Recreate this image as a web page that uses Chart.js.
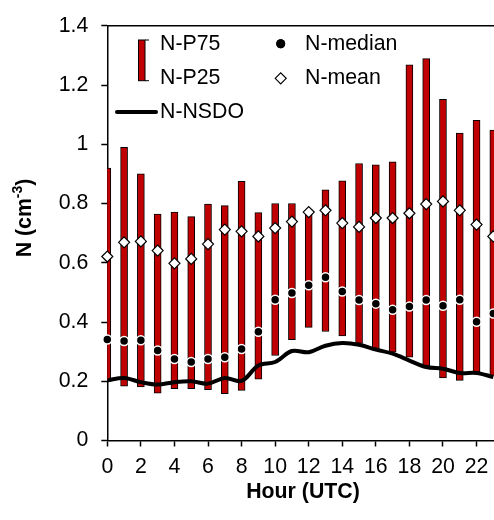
<!DOCTYPE html>
<html>
<head>
<meta charset="utf-8">
<script src="https://cdn.jsdelivr.net/npm/chart.js@4.4.1/dist/chart.umd.min.js"></script>
<style>
  html, body { margin: 0; padding: 0; background: #fff; }
  #wrap { width: 494px; height: 520px; }
</style>
</head>
<body>
<div id="wrap"><canvas id="chart" width="494" height="520"></canvas></div>
<script>
// --- データ (時間別 N 統計) ---
const hours = [0, 1, 2, 3, 4, 5, 6, 7, 8, 9, 10, 11, 12, 13, 14, 15, 16, 17, 18, 19, 20, 21, 22, 23];
const nP75 = [0.92, 0.99, 0.90, 0.764, 0.771, 0.756, 0.798, 0.793, 0.875, 0.769, 0.80, 0.80,
              0.77, 0.846, 0.877, 0.935, 0.931, 0.941, 1.268, 1.289, 1.152, 1.038, 1.081, 1.048];
const nP25 = [0.20, 0.183, 0.181, 0.160, 0.175, 0.175, 0.172, 0.158, 0.169, 0.207, 0.287, 0.340,
              0.382, 0.368, 0.353, 0.328, 0.309, 0.298, 0.281, 0.248, 0.211, 0.203, 0.231, 0.22];
const nMedian = [0.341, 0.336, 0.338, 0.304, 0.275, 0.265, 0.275, 0.281, 0.309, 0.367, 0.475, 0.498,
                 0.524, 0.551, 0.503, 0.474, 0.462, 0.441, 0.452, 0.474, 0.455, 0.475, 0.401, 0.429];
const nMean = [0.621, 0.669, 0.672, 0.641, 0.598, 0.613, 0.663, 0.712, 0.706, 0.689, 0.717, 0.739,
               0.771, 0.777, 0.734, 0.721, 0.751, 0.751, 0.767, 0.798, 0.807, 0.777, 0.729, 0.689];
const nNsdo = [0.203, 0.211, 0.197, 0.189, 0.197, 0.200, 0.192, 0.211, 0.201, 0.253, 0.265, 0.302,
               0.298, 0.320, 0.329, 0.323, 0.307, 0.293, 0.270, 0.248, 0.242, 0.228, 0.228, 0.214];

const FONT = '"Liberation Sans", Arial, sans-serif';
const RED = '#C00000';

// 凡例・軸タイトル・上枠線を描くプラグイン
const decorPlugin = {
  id: 'decor',
  afterDraw(chart) {
    const ctx = chart.ctx;
    const area = chart.chartArea;
    ctx.save();

    // 上枠線
    ctx.strokeStyle = '#000';
    ctx.lineWidth = 1.5;
    ctx.beginPath();
    ctx.moveTo(area.left, area.top);
    ctx.lineTo(area.right, area.top);
    ctx.stroke();

    // 凡例
    ctx.font = '21.3px ' + FONT;
    ctx.fillStyle = '#000';
    ctx.textBaseline = 'middle';
    ctx.textAlign = 'left';

    // P75/P25 バー記号
    ctx.fillStyle = RED;
    ctx.fillRect(138.5, 40, 6.5, 40.7);
    ctx.strokeStyle = '#000';
    ctx.lineWidth = 1;
    ctx.strokeRect(138.5, 40, 6.5, 40.7);
    ctx.beginPath();
    ctx.moveTo(145, 40); ctx.lineTo(149, 40);
    ctx.moveTo(145, 80.7); ctx.lineTo(149, 80.7);
    ctx.stroke();

    ctx.fillStyle = '#000';
    ctx.fillText('N-P75', 160, 44);
    ctx.fillText('N-P25', 160, 78);

    // NSDO 線
    ctx.lineWidth = 4;
    ctx.lineCap = 'round';
    ctx.beginPath();
    ctx.moveTo(117, 112); ctx.lineTo(156, 112);
    ctx.stroke();
    ctx.fillText('N-NSDO', 160, 112);

    // median / mean 記号
    Chart.helpers.drawPoint(ctx, { pointStyle: 'circle', radius: 4.5, borderWidth: 0 }, 280.7, 43.7);
    ctx.fillStyle = '#000';
    ctx.fill();
    ctx.fillStyle = '#fff';
    ctx.strokeStyle = '#000';
    ctx.lineWidth = 1.2;
    Chart.helpers.drawPoint(ctx, { pointStyle: 'rectRot', radius: 5.5, borderWidth: 1.2 }, 280.7, 78.3);
    ctx.fillStyle = '#000';
    ctx.fillText('N-median', 305, 44);
    ctx.fillText('N-mean', 305, 78);

    // x 軸タイトル
    ctx.font = 'bold 21.3px ' + FONT;
    ctx.textAlign = 'center';
    ctx.fillText('Hour (UTC)', 303, 492);

    // y 軸タイトル (上付き -3)
    ctx.translate(25, 218);
    ctx.rotate(-Math.PI / 2);
    const big = 'bold 21.3px ' + FONT;
    const small = 'bold 14px ' + FONT;
    ctx.font = big;
    const w1 = ctx.measureText('N (cm').width;
    const w3 = ctx.measureText(')').width;
    ctx.font = small;
    const w2 = ctx.measureText('-3').width;
    let x = -(w1 + w2 + w3) / 2;
    ctx.textAlign = 'left';
    ctx.font = big;
    ctx.fillText('N (cm', x, 0);
    x += w1;
    ctx.font = small;
    ctx.fillText('-3', x, -7);
    x += w2;
    ctx.font = big;
    ctx.fillText(')', x, 0);

    ctx.restore();
  }
};

new Chart(document.getElementById('chart'), {
  type: 'bar',
  data: {
    datasets: [
      {
        type: 'scatter',
        label: 'N-median',
        data: hours.map((h, i) => ({ x: h, y: nMedian[i] })),
        pointStyle: 'circle',
        pointRadius: 4.5,
        pointBackgroundColor: '#000',
        pointBorderColor: '#fff',
        pointBorderWidth: 1.5,
        clip: false,
        order: 1
      },
      {
        type: 'scatter',
        label: 'N-mean',
        data: hours.map((h, i) => ({ x: h, y: nMean[i] })),
        pointStyle: 'rectRot',
        pointRadius: 5.5,
        pointBackgroundColor: '#fff',
        pointBorderColor: '#000',
        pointBorderWidth: 1.2,
        clip: false,
        order: 2
      },
      {
        type: 'line',
        label: 'N-NSDO',
        data: hours.map((h, i) => ({ x: h, y: nNsdo[i] })),
        borderColor: '#000',
        borderWidth: 4,
        pointRadius: 0,
        tension: 0.35,
        fill: false,
        order: 3
      },
      {
        type: 'bar',
        label: 'N-P25/P75',
        data: hours.map((h, i) => ({ x: h, y: [nP25[i], nP75[i]] })),
        backgroundColor: RED,
        borderColor: '#000',
        borderWidth: 1,
        borderSkipped: false,
        barThickness: 7,
        order: 4
      }
    ]
  },
  options: {
    responsive: false,
    animation: false,
    devicePixelRatio: 1,
    layout: { autoPadding: false, padding: { top: 24, right: 0, left: 0, bottom: 0 } },
    plugins: {
      legend: { display: false },
      tooltip: { enabled: false }
    },
    scales: {
      x: {
        type: 'linear',
        min: 0,
        max: 23.04,
        offset: false,
        afterFit(scale) {
          scale.height = 79.5;
          scale.paddingRight = 0;
          scale.paddingLeft = 0;
        },
        ticks: {
          stepSize: 2,
          includeBounds: false,
          autoSkip: false,
          maxRotation: 0,
          padding: 8,
          color: '#000',
          font: { family: FONT, size: 21.3 },
          callback: v => String(v)
        },
        grid: { offset: false, drawOnChartArea: false, drawTicks: true, tickLength: 6, tickColor: '#000', tickWidth: 1.5 },
        border: { color: '#000', width: 1.5 }
      },
      y: {
        min: 0,
        max: 1.4,
        afterFit(scale) { scale.width = 107.3; },
        ticks: {
          stepSize: 0.2,
          padding: 13,
          color: '#000',
          font: { family: FONT, size: 21.3 },
          callback: v => String(+v.toFixed(1))
        },
        grid: { drawOnChartArea: false, drawTicks: true, tickLength: 6, tickColor: '#000', tickWidth: 1.5 },
        border: { color: '#000', width: 1.5 }
      }
    }
  },
  plugins: [decorPlugin]
});
</script>
</body>
</html>
